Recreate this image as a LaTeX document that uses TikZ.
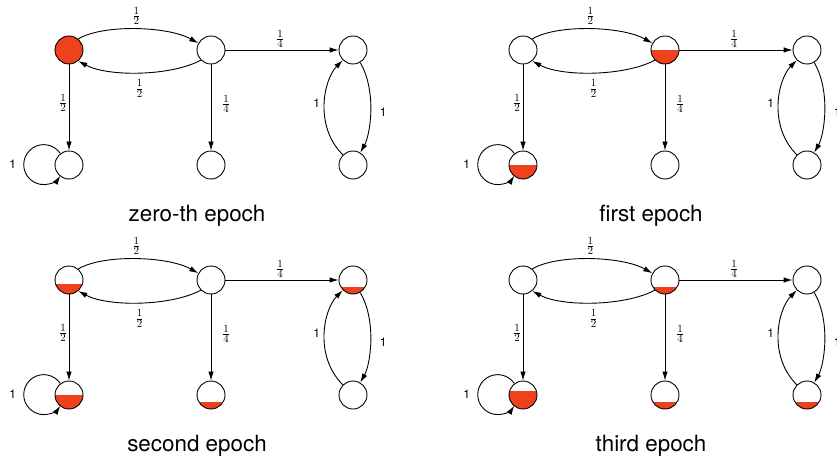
\documentclass[tikz,border=0pt]{standalone}
\usepackage{fontspec}
\setsansfont{TeX Gyre Heros}
\usetikzlibrary{arrows.meta}
\definecolor{mass}{RGB}{238,66,30}
\tikzset{
  state/.style={circle, draw, line width=0.9pt, minimum size=28pt, inner sep=0pt, fill=white},
  full/.style={fill=mass},
  lv/.style={path picture={\fill[mass] (path picture bounding box.south west) rectangle ([yshift=#1]path picture bounding box.south east);}},
  link/.style={line width=0.9pt, -{Latex[length=9pt,width=5.5pt]}},
  frac/.style={font=\fontsize{15}{18}\selectfont, inner sep=0pt},
  one/.style={font=\sffamily\fontsize{12}{14}\selectfont, inner sep=0pt},
  epochtitle/.style={font=\sffamily\fontsize{22.4}{26}\selectfont, anchor=base, inner sep=0pt},
}
% #1 shift, #2 name prefix, #3 title, #4-#9 fill of the six states
\newcommand\epochgraph[9]{%
  \begin{scope}[shift={(#1)}, name prefix=#2-]
    \node[state,#4] (A) at (69,-50) {};
    \node[state,#5] (B) at (211,-50) {};
    \node[state,#6] (C) at (353,-50) {};
    \node[state,#7] (D) at (69,-165) {};
    \node[state,#8] (E) at (211,-165) {};
    \node[state,#9] (F) at (353,-165) {};
    \draw[link] (A.50) .. controls +(25,15) and +(-30,17) ..
      node[frac, midway, yshift=13pt] (lab) {$\frac12$} (B.152);
    \draw[link] (B.225) .. controls +(-30,-16) and +(30,-16) ..
      node[frac, midway, yshift=-16pt] (lba) {$\frac12$} (A.-50);
    \draw[link] (A) -- node[frac, midway, xshift=-6pt, yshift=4.5pt] (lad) {$\frac12$} (D);
    \draw[link] (B) -- node[frac, midway, xshift=15pt, yshift=3.5pt] (lbe) {$\frac14$} (E);
    \draw[link] (B) -- node[frac, midway, xshift=-2pt, yshift=11pt] (lbc) {$\frac14$} (C);
    \draw[link] (C) to[out=-60, in=60, looseness=0.85] node[one, midway, xshift=13pt] (lcf) {1} (F);
    \draw[link] (F) to[out=135, in=225, looseness=1] node[one, midway, xshift=-8pt] (lfc) {1} (C);
    \draw[link] (D.127) arc[start angle=34, end angle=326, radius=20]
      node[one, pos=0.5, xshift=-11pt] (ldd) {1};
    \node[epochtitle] (title) at (197,-221) {#3};
  \end{scope}}
\begin{document}
\begin{tikzpicture}[x=1pt, y=1pt]
  \fill[white] (0,0) rectangle (837,-457);
  \useasboundingbox (0,0) rectangle (837,-457);
  \epochgraph{0,0}{p0}{zero-th epoch}{full}{}{}{}{}{}
  \epochgraph{454,0}{p1}{first epoch}{}{lv=14pt}{}{lv=14pt}{}{}
  \epochgraph{0,-230}{p2}{second epoch}{lv=10pt}{}{lv=6.6pt}{lv=14pt}{lv=6.6pt}{}
  \epochgraph{454,-230}{p3}{third epoch}{}{lv=7pt}{}{lv=18pt}{lv=6.6pt}{lv=7pt}
\end{tikzpicture}
\end{document}
